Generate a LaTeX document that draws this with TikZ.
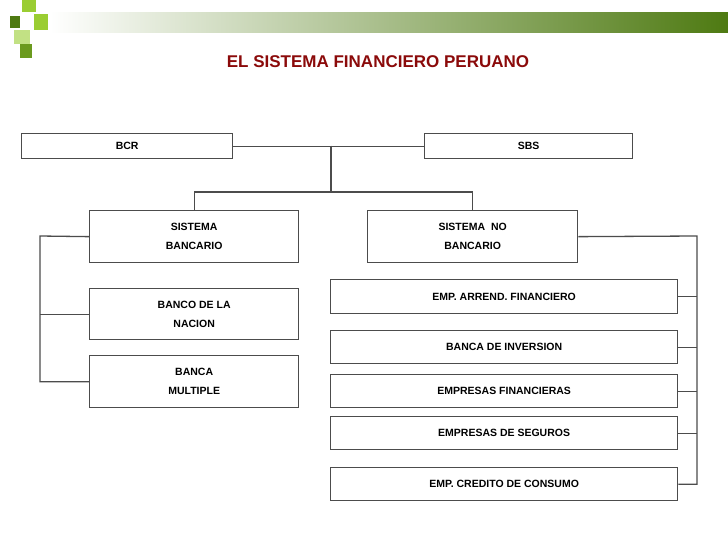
\documentclass[tikz,border=0pt]{standalone}
\usepackage{fontspec}
\setmainfont{Liberation Sans}
\definecolor{dg}{HTML}{4E7A12}
\definecolor{lg}{HTML}{9ACD32}
\definecolor{mg}{HTML}{6B9A1E}
\definecolor{tred}{HTML}{8B0A0A}
\begin{document}
\begin{tikzpicture}[x=1pt,y=-1pt,
  bx/.style={draw=black!70,line width=1.3pt,anchor=north west,inner sep=0pt,align=center,font=\bfseries\fontsize{10.5}{19}\selectfont},
  ln/.style={draw=black!70,line width=1.3pt}]
\useasboundingbox (0,0) rectangle (728,546);
\fill[white] (0,0) rectangle (728,546);
% header
\shade[left color=white,right color=dg] (50,12) rectangle (728,32);
\fill[lg] (22,0) rectangle (36,12);
\fill[dg] (10,16) rectangle (20,28);
\fill[lg] (34,14) rectangle (48,30);
\fill[lg!60] (14,30) rectangle (30,44);
\fill[mg] (20,44) rectangle (32,58);
\node[font=\bfseries\fontsize{17}{20}\selectfont,text=tred] (title) at (378,62) {EL SISTEMA FINANCIERO PERUANO};
% boxes
\node[bx,minimum width=211,minimum height=25] (bcr) at (21,133) {BCR};
\node[bx,minimum width=208,minimum height=25] (sbs) at (424,133) {SBS};
\node[bx,minimum width=209,minimum height=52] (sb) at (89,210) {SISTEMA\\BANCARIO};
\node[bx,minimum width=210,minimum height=52] (snb) at (367,210) {SISTEMA\ \ NO\\BANCARIO};
\node[bx,minimum width=209,minimum height=51] (bn) at (89,288) {BANCO DE LA\\NACION};
\node[bx,minimum width=209,minimum height=52] (bm) at (89,355) {BANCA\\MULTIPLE};
\node[bx,minimum width=347,minimum height=34] (e1) at (330,279) {EMP. ARREND. FINANCIERO};
\node[bx,minimum width=347,minimum height=33] (e2) at (330,330) {BANCA DE INVERSION};
\node[bx,minimum width=347,minimum height=33] (e3) at (330,374) {EMPRESAS FINANCIERAS};
\node[bx,minimum width=347,minimum height=33] (e4) at (330,416) {EMPRESAS DE SEGUROS};
\node[bx,minimum width=347,minimum height=33] (e5) at (330,467) {EMP. CREDITO DE CONSUMO};
% connectors
\coordinate (j) at (331,145.5);
\coordinate (k) at (331,192);
\coordinate (lb) at (40,236);
\coordinate (rb) at (697,236);
\draw[ln] (bcr.east) -- (sbs.west);
\draw[ln] (j) -- (k);
\draw[ln] (sb.north) |- (k) -| (snb.north);
\draw[ln] (sb.west) -- (lb) |- (bm.west);
\draw[ln] (lb |- bn.west) -- (bn.west);
\draw[ln] (snb.east) -- (rb) |- (e5.east);
\draw[ln] (e1.east) -- (rb |- e1.east);
\draw[ln] (e2.east) -- (rb |- e2.east);
\draw[ln] (e3.east) -- (rb |- e3.east);
\draw[ln] (e4.east) -- (rb |- e4.east);
\end{tikzpicture}
\end{document}
